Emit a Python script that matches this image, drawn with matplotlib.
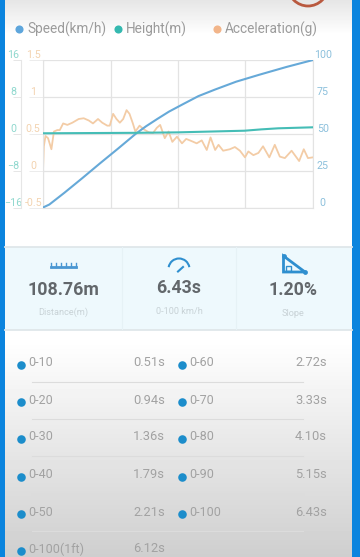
import numpy as np
import matplotlib
matplotlib.use("Agg")
import matplotlib.pyplot as plt
import matplotlib.patches as patches

plt.rcParams['font.family'] = ['Roboto', 'DejaVu Sans']

# speed run, times in s
speed_t = [0, 0.15, 0.51, 0.94, 1.36, 1.79, 2.21, 2.45, 2.72, 3.0, 3.33, 3.7, 4.10, 4.6, 5.15, 5.8, 6.43]
speed_v = [0, 2, 10, 20, 30, 40, 50, 55, 60, 65, 70, 75.5, 80, 85.3, 90, 95.3, 100]

height_t = [0, 2.2, 3.2, 4.8, 5.2, 5.6, 6.43]
height_v = [0.1, 0.2, 0.3, 0.66, 0.95, 1.18, 1.4]

accel_t = [0, .02, .06, .12, .20, .26, .34, .40, .48, .58, .70, .85, .97, 1.09, 1.19, 1.31,
           1.41, 1.53, 1.59, 1.67, 1.75, 1.83, 1.91, 1.99, 2.06, 2.14, 2.20, 2.30, 2.40, 2.52,
           2.62, 2.71, 2.79, 2.90, 2.99, 3.08, 3.19, 3.31, 3.41, 3.54, 3.66, 3.78, 3.90, 3.99,
           4.10, 4.18, 4.29, 4.45, 4.57, 4.69, 4.81, 4.89, 5.01, 5.13, 5.24, 5.39, 5.52, 5.64,
           5.76, 5.92, 6.10, 6.21, 6.31, 6.43]
accel_g = [0, .33, .47, .44, .29, .53, .55, .55, .64, .62, .65, .70, .71, .68, .64, .70,
           .65, .61, .61, .77, .70, .65, .70, .82, .77, .64, .53, .61, .56, .52,
           .51, .58, .62, .44, .53, .39, .46, .37, .43, .40, .37, .41, .28, .45,
           .28, .35, .27, .29, .32, .27, .18, .26, .21, .24, .33, .18, .35, .19,
           .17, .27, .13, .29, .17, .18]

legend_names = ['Speed(km/h)', 'Height(m)', 'Acceleration(g)']
legend_colors = ['#5ea6dc', '#35b9b0', '#f2b58a']

speed_ticks = [0, 25, 50, 75, 100]
accel_ticks = [-0.5, 0, 0.5, 1, 1.5]
height_ticks = [-16, -8, 0, 8, 16]

stat_values = ['108.76m', '6.43s', '1.20%']
stat_names = ['Distance(m)', '0-100 km/h', 'Slope']

left_names = ['0-10', '0-20', '0-30', '0-40', '0-50', '0-100(1ft)']
left_times = ['0.51s', '0.94s', '1.36s', '1.79s', '2.21s', '6.12s']
right_names = ['0-60', '0-70', '0-80', '0-90', '0-100']
right_times = ['2.72s', '3.33s', '4.10s', '5.15s', '6.43s']

W, H = 360, 557
fig = plt.figure(figsize=(W / 100, H / 100), dpi=100)

# page drawn in pixel coordinates
bg = fig.add_axes([0, 0, 1, 1], zorder=-1)
bg.axis('off')

shade = np.ones(H)
shade[:35] = np.linspace(0.90, 1, 35)
shade[340:] = np.linspace(1, 0.81, H - 340)
bg.imshow(shade[:, None], cmap='gray', vmin=0, vmax=1, extent=[0, W, H, 0], aspect='auto')
bg.set_xlim(0, W)
bg.set_ylim(H, 0)
bg.add_patch(patches.Rectangle((0, 0), 4.5, H, color='#0b84de', lw=0))
bg.add_patch(patches.Rectangle((352, 0), 8, H, color='#0b84de', lw=0))

# stamp at the top edge
bg.add_patch(patches.Circle((308, -14), 20, fill=False, ec='#b9593f', lw=2))

# legend
for x, name, c in zip([19, 118, 217], legend_names, legend_colors):
    bg.scatter([x], [29], s=34, color=c, lw=0)
    bg.text(x + 8, 29.5, name, fontsize=9.8, color='#9b9b9b', va='center', ha='left')

# stats panel
bg.add_patch(patches.Rectangle((4.5, 247), 347.5, 83, color='#eef9fd', lw=0))
bg.plot([4.5, 352], [246.5, 246.5], color='#dfe7ea', lw=1.3)
bg.plot([4.5, 352], [330, 330], color='#dfe7ea', lw=1.3)
for x in [122, 236]:
    bg.plot([x, x], [247, 329], color='#e6f2f6', lw=0.8)
for x, y, val in zip([63, 179, 293], [290, 288, 290], stat_values):
    bg.text(x, y, val, fontsize=12.8, weight='bold', color='#62676b', ha='center', va='center')
for x, y, name in zip([63, 179, 293], [312.5, 311, 313], stat_names):
    bg.text(x, y, name, fontsize=6.6, color='#c8d2d6', ha='center', va='center')

# ruler icon
icon = '#4a97d2'
bg.plot([50.5, 76], [266.5, 266.5], color=icon, lw=2)
for x in [51, 56, 61, 66, 71, 75.5]:
    bg.plot([x, x], [263, 266.5], color=icon, lw=1)
# gauge icon
bg.add_patch(patches.Arc((179, 269), 21, 21, theta1=190, theta2=350, color='#2f8fcf', lw=1.5))
bg.plot([178, 183], [271.5, 267], color='#2f8fcf', lw=1.5)
# slope icon
bg.add_patch(patches.Polygon([(283.5, 256), (283.5, 272), (305, 272)], fill=False, ec='#2f8fcf', lw=2))
bg.add_patch(patches.Rectangle((286, 266), 5, 5, fill=False, ec='#2f8fcf', lw=1))
bg.scatter([283.5, 305], [256, 272], s=12, color='#2f8fcf', lw=0)

# time table
rows_y = [363, 400, 437, 474.5, 512, 549]
for y in rows_y[:5]:
    bg.plot([32, 303], [y + 19, y + 19], color='#dcdcdc', lw=0.8)
for y, name, t in zip(rows_y, left_names, left_times):
    bg.scatter([21], [y + 2], s=38, color='#1c8dcb', lw=0)
    bg.text(28, y, name, fontsize=9, color='#a2a2a2', va='center', ha='left')
    bg.text(165, y, t, fontsize=9.3, color='#a2a2a2', va='center', ha='right')
for y, name, t in zip(rows_y, right_names, right_times):
    bg.scatter([182], [y + 2], s=38, color='#1c8dcb', lw=0)
    bg.text(189, y, name, fontsize=9, color='#a2a2a2', va='center', ha='left')
    bg.text(327, y, t, fontsize=9.3, color='#a2a2a2', va='center', ha='right')

# chart
rect = [43 / W, 1 - 207.5 / H, 270 / W, 147.5 / H]
ax_acc = fig.add_axes(rect, zorder=1)
ax_spd = ax_acc.twinx()
ax_hgt = ax_acc.twinx()
ax_spd.set_zorder(2)
ax_hgt.set_zorder(3)

ax_acc.patch.set_visible(False)
ax_acc.set_xlim(0, speed_t[-1])
ax_acc.set_xticks(np.linspace(0, speed_t[-1], 5))
ax_acc.tick_params(axis='x', length=0, labelbottom=False)
ax_acc.grid(True, color='#e3e3e3', lw=0.9)
ax_acc.set_axisbelow(True)

ax_acc.plot(accel_t, accel_g, color='#f3cca6', lw=1.3)
ax_spd.plot(speed_t, speed_v, color='#66a9d8', lw=1.5)
ax_hgt.plot(height_t, height_v, color='#45bdb6', lw=1.5)

ax_acc.set_ylim(-0.5, 1.5)
ax_spd.set_ylim(0, 100)
ax_hgt.set_ylim(-16, 16)
ax_acc.set_yticks(accel_ticks, [f'{v:g}' for v in accel_ticks])
ax_spd.set_yticks(speed_ticks)
ax_hgt.set_yticks(height_ticks)

for a in [ax_acc, ax_spd, ax_hgt]:
    for s in a.spines.values():
        s.set_visible(False)
for side in ['bottom', 'left', 'right']:
    ax_acc.spines[side].set_visible(True)
    ax_acc.spines[side].set_color('#e3e3e3')
ax_hgt.spines['left'].set_visible(True)
ax_hgt.spines['left'].set_position(('outward', 22 * 72 / 100))
ax_hgt.spines['left'].set_color('#e6e6e6')

ax_acc.tick_params(axis='y', colors='#f3d3b0', labelsize=7.7, length=14 * 0.72, width=0.7,
                   color='#ececec', pad=-3)
ax_spd.tick_params(axis='y', labelcolor='#8cc0dc', labelsize=7.7, length=0, pad=7)
ax_hgt.yaxis.set_ticks_position('left')
ax_hgt.tick_params(axis='y', labelcolor='#8fd8ce', labelsize=7.7, length=8 * 0.72, width=0.7,
                   color='#e6e6e6', pad=0)
for a in [ax_acc, ax_spd, ax_hgt]:
    for lab in a.get_yticklabels():
        lab.set_ha('center')
        lab.set_va('bottom')

fig.savefig('out.png', dpi=100)
